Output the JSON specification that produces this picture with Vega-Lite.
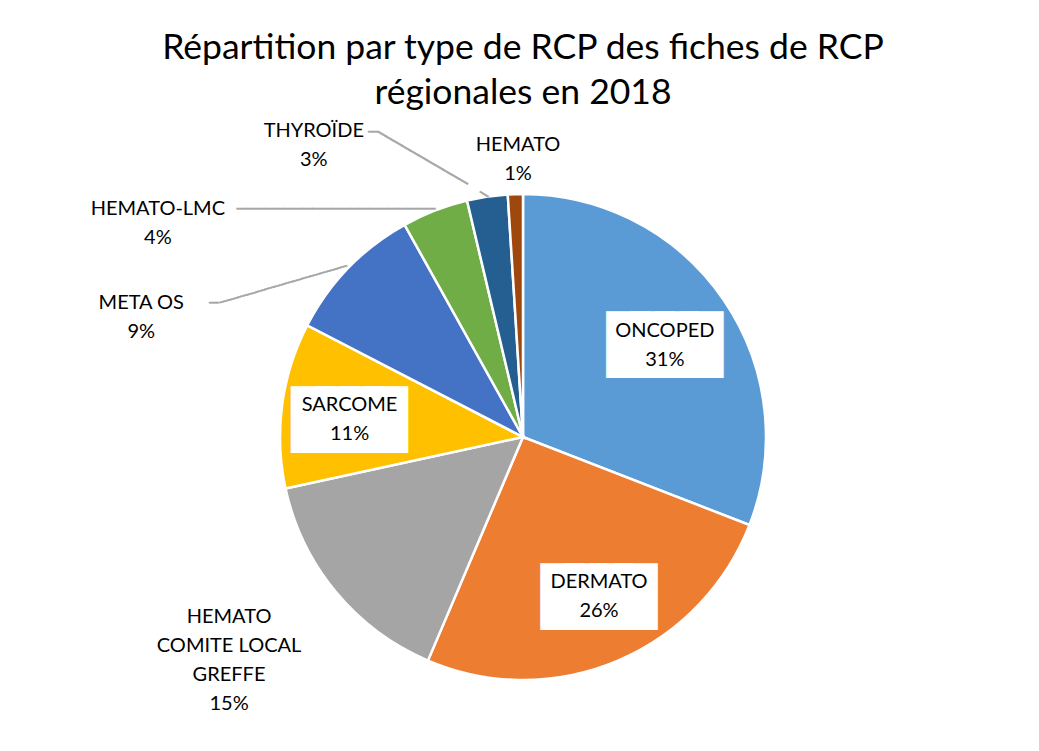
{
  "$schema": "https://vega.github.io/schema/vega-lite/v6.json",
  "width": 1039,
  "height": 751,
  "autosize": {"type": "fit", "contains": "padding"},
  "padding": {"left": 7, "top": 33, "right": 0, "bottom": 0},
  "background": "white",
  "config": {"view": {"stroke": null}},
  "title": {
    "text": ["Répartition par type de RCP des fiches de RCP", "régionales en 2018"],
    "font": "Lato",
    "fontSize": 35.5,
    "fontWeight": "normal",
    "color": "#000000",
    "lineHeight": 45,
    "anchor": "middle",
    "offset": 9.5
  },
  "data": {
    "values": [
      {"cat": "ONCOPED", "label": "ONCOPED\n31%", "value": 30.9, "order": 1},
      {"cat": "DERMATO", "label": "DERMATO\n26%", "value": 25.5, "order": 2},
      {"cat": "HEMATO COMITE LOCAL GREFFE", "label": "HEMATO\nCOMITE LOCAL\nGREFFE\n15%", "value": 15.2, "order": 3},
      {"cat": "SARCOME", "label": "SARCOME\n11%", "value": 11.0, "order": 4},
      {"cat": "META OS", "label": "META OS\n9%", "value": 9.3, "order": 5},
      {"cat": "HEMATO-LMC", "label": "HEMATO-LMC\n4%", "value": 4.4, "order": 6},
      {"cat": "THYROÏDE", "label": "THYROÏDE\n3%", "value": 2.7, "order": 7},
      {"cat": "HEMATO", "label": "HEMATO\n1%", "value": 1.0, "order": 8}
    ]
  },
  "transform": [
    {"stack": "value", "groupby": [], "sort": [{"field": "order", "order": "ascending"}], "as": ["v0", "v1"]},
    {"calculate": "(datum.v0 + datum.v1) / 2", "as": "mid"}
  ],
  "encoding": {
    "theta": {"field": "mid", "type": "quantitative", "scale": {"domain": [0, 100]}}
  },
  "layer": [
    {
      "mark": {"type": "arc", "outerRadius": 243, "stroke": "white", "strokeWidth": 2.5},
      "encoding": {
        "theta": {"field": "v0", "type": "quantitative", "scale": {"domain": [0, 100]}},
        "theta2": {"field": "v1"},
        "color": {
          "field": "cat",
          "type": "nominal",
          "legend": null,
          "scale": {
            "domain": ["ONCOPED", "DERMATO", "HEMATO COMITE LOCAL GREFFE", "SARCOME", "META OS", "HEMATO-LMC", "THYROÏDE", "HEMATO"],
            "range": ["#5B9BD5", "#ED7D31", "#A5A5A5", "#FFC000", "#4472C4", "#70AD47", "#255E91", "#9E480E"]
          }
        }
      }
    },
    {
      "transform": [{"filter": "datum.cat === 'ONCOPED'"}],
      "mark": {"type": "text", "radius": 169, "thetaOffset": 0.025, "dy": 2, "font": "DejaVu Sans Mono", "fontSize": 41, "fill": "white", "stroke": "white", "strokeWidth": 18, "strokeJoin": "miter", "align": "center", "baseline": "middle", "text": "████"}
    },
    {
      "transform": [{"filter": "datum.cat === 'DERMATO'"}],
      "mark": {"type": "text", "radius": 176.7, "thetaOffset": -0.0457, "dy": 2, "font": "DejaVu Sans Mono", "fontSize": 41, "fill": "white", "stroke": "white", "strokeWidth": 18, "strokeJoin": "miter", "align": "center", "baseline": "middle", "text": "████"}
    },
    {
      "transform": [{"filter": "datum.cat === 'SARCOME'"}],
      "mark": {"type": "text", "radius": 174.3, "thetaOffset": -0.034, "dy": 2, "font": "DejaVu Sans Mono", "fontSize": 41, "fill": "white", "stroke": "white", "strokeWidth": 18, "strokeJoin": "miter", "align": "center", "baseline": "middle", "text": "████"}
    },
    {
      "transform": [{"filter": "datum.cat === 'ONCOPED'"}],
      "mark": {"type": "text", "radius": 169, "thetaOffset": 0.025, "dy": -14.5, "font": "Lato", "fontSize": 20, "lineHeight": 29, "lineBreak": "\n", "color": "#000000", "align": "center", "baseline": "middle"},
      "encoding": {"text": {"field": "label", "type": "nominal"}}
    },
    {
      "transform": [{"filter": "datum.cat === 'DERMATO'"}],
      "mark": {"type": "text", "radius": 176.7, "thetaOffset": -0.0457, "dy": -14.5, "font": "Lato", "fontSize": 20, "lineHeight": 29, "lineBreak": "\n", "color": "#000000", "align": "center", "baseline": "middle"},
      "encoding": {"text": {"field": "label", "type": "nominal"}}
    },
    {
      "transform": [{"filter": "datum.cat === 'SARCOME'"}],
      "mark": {"type": "text", "radius": 174.3, "thetaOffset": -0.034, "dy": -14.5, "font": "Lato", "fontSize": 20, "lineHeight": 29, "lineBreak": "\n", "color": "#000000", "align": "center", "baseline": "middle"},
      "encoding": {"text": {"field": "label", "type": "nominal"}}
    },
    {
      "transform": [{"filter": "datum.cat === 'HEMATO COMITE LOCAL GREFFE'"}],
      "mark": {"type": "text", "radius": 369, "thetaOffset": 0.042, "dy": -43.5, "font": "Lato", "fontSize": 20, "lineHeight": 29, "lineBreak": "\n", "color": "#000000", "align": "center", "baseline": "middle"},
      "encoding": {"text": {"field": "label", "type": "nominal"}}
    },
    {
      "transform": [{"filter": "datum.cat === 'META OS'"}],
      "mark": {"type": "text", "radius": 400, "thetaOffset": -0.4665, "dy": -14.5, "font": "Lato", "fontSize": 20, "lineHeight": 29, "lineBreak": "\n", "color": "#000000", "align": "center", "baseline": "middle"},
      "encoding": {"text": {"field": "label", "type": "nominal"}}
    },
    {
      "transform": [{"filter": "datum.cat === 'HEMATO-LMC'"}],
      "mark": {"type": "text", "radius": 423, "thetaOffset": -0.6709, "dy": -14.5, "font": "Lato", "fontSize": 20, "lineHeight": 29, "lineBreak": "\n", "color": "#000000", "align": "center", "baseline": "middle"},
      "encoding": {"text": {"field": "label", "type": "nominal"}}
    },
    {
      "transform": [{"filter": "datum.cat === 'THYROÏDE'"}],
      "mark": {"type": "text", "radius": 359, "thetaOffset": -0.4744, "dy": -14.5, "font": "Lato", "fontSize": 20, "lineHeight": 29, "lineBreak": "\n", "color": "#000000", "align": "center", "baseline": "middle"},
      "encoding": {"text": {"field": "label", "type": "nominal"}}
    },
    {
      "transform": [{"filter": "datum.cat === 'HEMATO'"}],
      "mark": {"type": "text", "radius": 278, "thetaOffset": 0.0134, "dy": -14.5, "font": "Lato", "fontSize": 20, "lineHeight": 29, "lineBreak": "\n", "color": "#000000", "align": "center", "baseline": "middle"},
      "encoding": {"text": {"field": "label", "type": "nominal"}}
    },
    {
      "transform": [{"filter": "datum.cat === 'META OS'"}],
      "mark": {"type": "text", "radius": 336.8, "thetaOffset": -0.3604, "angle": 0, "font": "DejaVu Sans Mono", "fontSize": 15.7, "color": "#A6A6A6", "stroke": "#A6A6A6", "strokeWidth": 0.6, "align": "center", "baseline": "middle", "text": "─"}
    },
    {
      "transform": [{"filter": "datum.cat === 'META OS'"}],
      "mark": {"type": "text", "radius": 283.9, "thetaOffset": -0.2028, "angle": -16.24, "font": "DejaVu Sans Mono", "fontSize": 15.7, "color": "#A6A6A6", "stroke": "#A6A6A6", "strokeWidth": 0.6, "align": "center", "baseline": "middle", "text": "──────────────"}
    },
    {
      "transform": [{"filter": "datum.cat === 'HEMATO-LMC'"}],
      "mark": {"type": "text", "radius": 294.9, "thetaOffset": -0.3163, "angle": 0, "font": "DejaVu Sans Mono", "fontSize": 15.7, "color": "#A6A6A6", "stroke": "#A6A6A6", "strokeWidth": 0.6, "align": "center", "baseline": "middle", "text": "─────────────────────"}
    },
    {
      "transform": [{"filter": "datum.cat === 'THYROÏDE'"}],
      "mark": {"type": "text", "radius": 339.9, "thetaOffset": -0.3094, "angle": 0, "font": "DejaVu Sans Mono", "fontSize": 15.7, "color": "#A6A6A6", "stroke": "#A6A6A6", "strokeWidth": 0.6, "align": "center", "baseline": "middle", "text": "─"}
    },
    {
      "transform": [{"filter": "datum.cat === 'THYROÏDE'"}],
      "mark": {"type": "text", "radius": 296.5, "thetaOffset": -0.1981, "angle": 30.3, "font": "DejaVu Sans Mono", "fontSize": 15.7, "color": "#A6A6A6", "stroke": "#A6A6A6", "strokeWidth": 0.6, "align": "center", "baseline": "middle", "text": "───────────"}
    },
    {
      "transform": [{"filter": "datum.cat === 'THYROÏDE'"}],
      "mark": {"type": "text", "radius": 245.6, "thetaOffset": -0.0119, "angle": 32, "font": "DejaVu Sans Mono", "fontSize": 15.7, "color": "#A6A6A6", "stroke": "#A6A6A6", "strokeWidth": 0.6, "align": "center", "baseline": "middle", "text": "─"}
    }
  ]
}
